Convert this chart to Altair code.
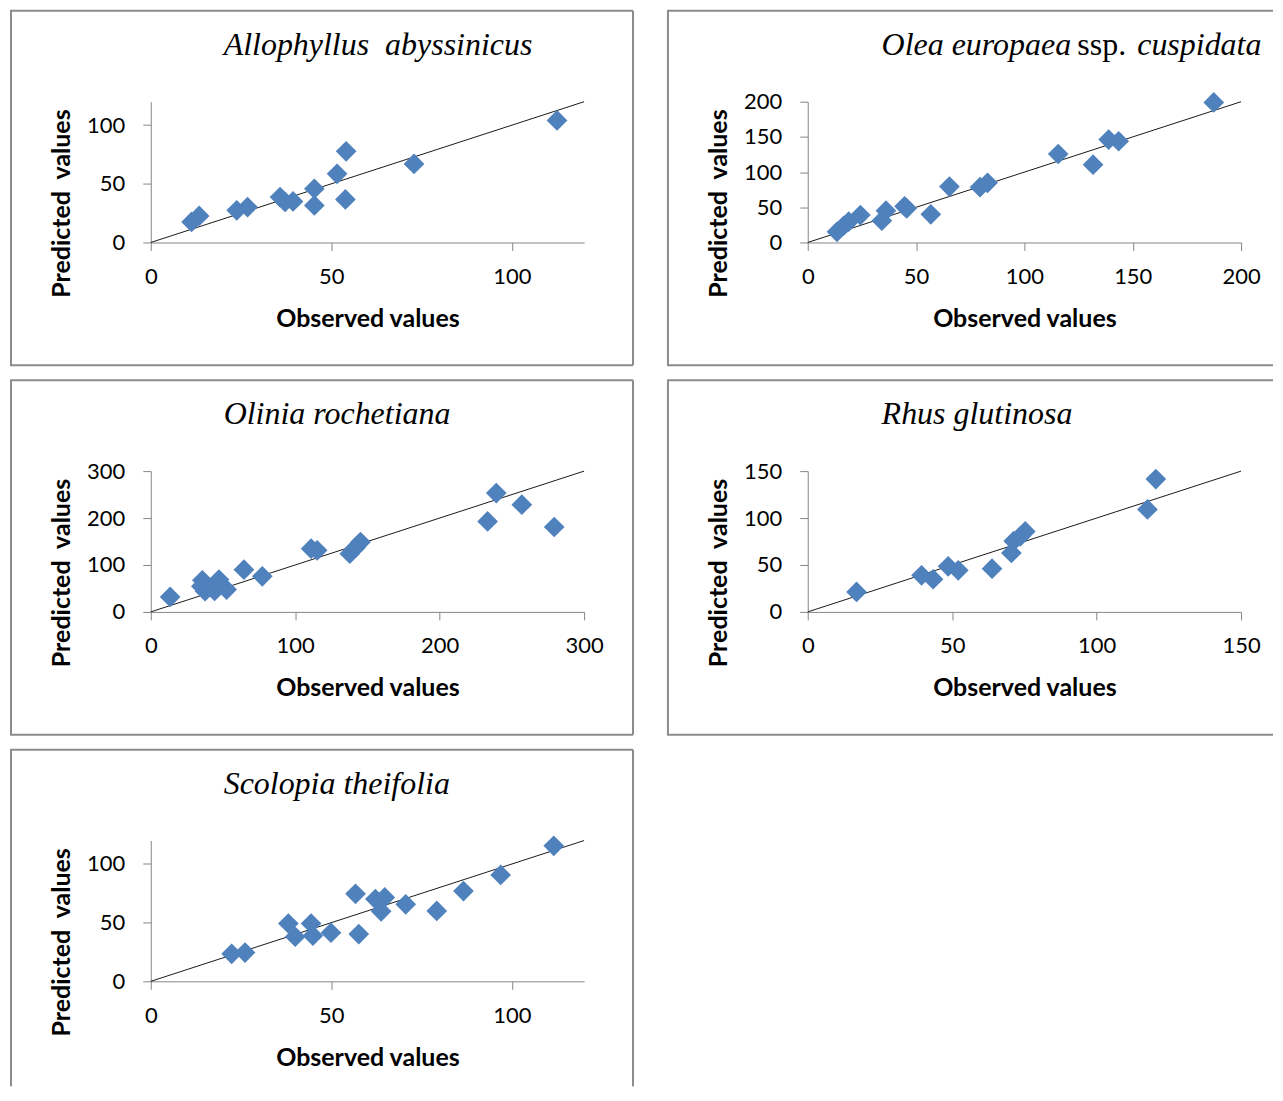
import altair as alt
import pandas as pd

# ---------------- data ----------------
allo_obs = [11.3, 13.4, 23.8, 26.8, 35.8, 37.2, 39.4, 45.3, 45.3, 51.6, 54.1, 53.9, 72.9, 112.5]
allo_pred = [17.5, 22.6, 27.4, 30.2, 38.7, 34.5, 35.0, 45.8, 31.6, 58.5, 77.7, 36.7, 67.0, 104.0]

olea_obs = [13.5, 16.6, 18.9, 24.3, 34.2, 36.1, 44.7, 45.7, 56.8, 65.4, 79.5, 83.0, 115.6, 131.7, 138.9, 143.5, 187.4]
olea_pred = [15.2, 23.8, 29.5, 39.0, 31.0, 45.2, 51.4, 48.6, 40.0, 79.5, 78.6, 84.8, 125.7, 110.5, 146.2, 143.8, 199.0]

olin_obs = [13.4, 35.7, 35.0, 37.6, 43.8, 47.2, 44.2, 52.5, 64.5, 77.2, 111.0, 115.2, 137.8, 141.7, 145.2, 233.2, 239.2, 256.9, 279.3]
olin_pred = [31.9, 67.4, 54.6, 44.0, 53.2, 68.8, 44.7, 47.5, 90.0, 75.9, 134.8, 131.2, 124.1, 136.9, 148.9, 192.9, 253.2, 228.4, 180.9]

rhus_obs = [16.9, 39.4, 43.4, 48.6, 52.1, 63.8, 70.5, 71.3, 73.6, 75.3, 117.6, 120.5]
rhus_pred = [21.3, 39.0, 34.8, 48.6, 44.3, 46.1, 62.8, 75.5, 80.5, 85.8, 109.2, 141.5]

scol_obs = [22.4, 26.1, 38.1, 40.0, 44.4, 44.9, 49.9, 56.7, 57.6, 62.2, 64.8, 63.8, 70.6, 79.2, 86.6, 96.9, 111.6]
scol_pred = [23.4, 24.5, 49.3, 38.0, 49.3, 38.9, 41.4, 74.6, 40.3, 70.1, 71.5, 59.7, 65.6, 60.0, 76.9, 90.7, 115.5]

axis_max = [120, 200, 300, 150, 120]
axis_step = [50, 50, 100, 50, 50]

x_title = "Observed values"
y_title = "Predicted \u00a0values"

# ---------------- styling ----------------
FONT = "Lato"
SERIF = "Liberation Serif"
BLUE = "#4F81BD"
BORDER = "#8C8C8C"
AXISC = "#868686"
W, H = 434, 141
TSIZE = 32


def border(right_col, last_row):
    one = alt.Data(values=[{"k": 1}])
    right = 466 if right_col else 483
    bottom = 246 if last_row else 264
    top = -91
    layers = []
    base = alt.Chart(one).mark_rule(color=BORDER, strokeWidth=2)
    layers.append(base.encode(x=alt.value(-140), y=alt.value(top), y2=alt.value(bottom)))
    layers.append(base.encode(x=alt.value(-141), x2=alt.value(right), y=alt.value(top)))
    if not right_col:
        layers.append(base.encode(x=alt.value(right), y=alt.value(top), y2=alt.value(bottom)))
    if not last_row:
        layers.append(base.encode(x=alt.value(-141), x2=alt.value(right), y=alt.value(bottom)))
    return layers


def title_layers(parts):
    layers = []
    for txt, xoff, style in parts:
        layers.append(
            alt.Chart(alt.Data(values=[{"t": txt}]))
            .mark_text(font=SERIF, fontSize=TSIZE, fontStyle=style, align="left",
                       baseline="alphabetic", color="#000000")
            .encode(x=alt.value(xoff), y=alt.value(-47), text="t:N")
        )
    return layers


def panel(obs, pred, dmax, step, tparts, right_col=False, last_row=False):
    df = pd.DataFrame({"obs": obs, "pred": pred})
    ticks = list(range(0, dmax + 1, step))
    common = dict(values=ticks, grid=False, domainColor=AXISC, domainWidth=1,
                  tickColor=AXISC, tickSize=8, tickWidth=1,
                  labelFont=FONT, labelFontSize=22, labelColor="#000000",
                  labelFlush=False, labelOverlap=False,
                  titleFont=FONT, titleFontSize=25, titleFontWeight="bold",
                  titleColor="#000000", titleAlign="center", titleBaseline="middle")
    xaxis = alt.Axis(title=x_title, labelPadding=16, titleX=W / 2, titleY=76, **common)
    yaxis = alt.Axis(title=y_title, labelPadding=18, titleX=-89, titleY=H / 2 + 31,
                     titleAngle=270, **common)
    xs = alt.Scale(domain=[0, dmax], nice=False, zero=True)
    ys = alt.Scale(domain=[0, dmax], nice=False, zero=True)

    line_df = pd.DataFrame({"obs": [0, dmax], "pred": [0, dmax]})
    line = alt.Chart(line_df).mark_line(color="#1a1a1a", strokeWidth=1).encode(
        x=alt.X("obs:Q", scale=xs, axis=xaxis),
        y=alt.Y("pred:Q", scale=ys, axis=yaxis),
    )
    pts = alt.Chart(df).mark_point(shape="diamond", filled=True, size=430,
                                   color=BLUE, opacity=1).encode(
        x=alt.X("obs:Q", scale=xs, axis=xaxis),
        y=alt.Y("pred:Q", scale=ys, axis=yaxis),
    )
    layers = [line, pts] + title_layers(tparts) + border(right_col, last_row)
    return alt.layer(*layers).properties(width=W, height=H)


p1 = panel(allo_obs, allo_pred, axis_max[0], axis_step[0],
           [("Allophyllus \u00a0abyssinicus", 73, "italic")])
p2 = panel(olea_obs, olea_pred, axis_max[1], axis_step[1],
           [("Olea europaea", 74, "italic"), ("ssp.", 270, "normal"),
            ("cuspidata", 330, "italic")], right_col=True)
p3 = panel(olin_obs, olin_pred, axis_max[2], axis_step[2],
           [("Olinia rochetiana", 73, "italic")])
p4 = panel(rhus_obs, rhus_pred, axis_max[3], axis_step[3],
           [("Rhus glutinosa", 74, "italic")], right_col=True)
p5 = panel(scol_obs, scol_pred, axis_max[4], axis_step[4],
           [("Scolopia theifolia", 73, "italic")], last_row=True)

chart = alt.concat(p1, p2, p3, p4, p5, columns=2,
                   spacing={"row": 229, "column": 224}, bounds="flush").properties(
    padding={"left": 0, "top": 0, "right": 0, "bottom": 0},
    background="white",
).configure_view(stroke="transparent")

chart.save("out.html", embed_options={"renderer": "svg", "actions": False})
